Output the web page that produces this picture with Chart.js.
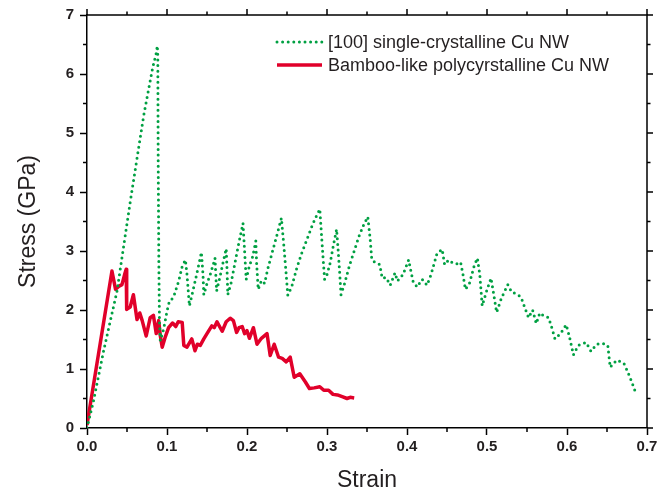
<!DOCTYPE html>
<html><head><meta charset="utf-8">
<script src="https://cdn.jsdelivr.net/npm/chart.js@4/dist/chart.umd.min.js"></script>
<style>html,body{margin:0;padding:0;background:#fff}canvas{display:block}</style>
</head><body>
<canvas id="c" width="672" height="497"></canvas>
<script>
// ---- data ----
const seriesLabels = ['[100] single-crystalline Cu NW', 'Bamboo-like polycyrstalline Cu NW'];
const xAxisTitle = 'Strain';
const yAxisTitle = 'Stress (GPa)';

const singleStrain = [0,0.0083,0.0208,0.0375,0.054,0.0708,0.082,0.0865,0.0879,
 0.0885,0.089,0.0898,0.0906,0.0916,
 0.0958,0.1,0.103,0.108,0.1146,0.119,0.123,
 0.125,0.128,0.132,0.137,0.141,0.143,
 0.145,0.146,0.150,0.154,0.158,0.160,
 0.161,0.162,0.166,0.170,0.174,
 0.175,0.176,0.180,0.185,0.190,0.195,
 0.197,0.199,0.203,0.207,0.211,
 0.212,0.214,0.218,0.222,0.226,0.232,0.238,0.243,
 0.246,0.249,0.251,0.256,0.262,0.268,0.275,0.282,0.287,0.291,
 0.293,0.295,0.297,0.300,0.304,0.308,0.312,
 0.314,0.316,0.3175,0.322,0.328,0.334,0.340,0.346,0.351,
 0.354,0.356,0.361,0.366,0.369,0.374,0.379,0.385,0.388,0.395,0.402,0.4075,0.4125,0.419,0.425,0.430,0.4375,0.444,0.447,0.452,0.457,0.462,0.467,0.470,0.473,0.478,0.484,0.488,0.491,0.494,0.499,0.505,0.508,0.512,0.518,0.526,0.531,0.536,0.5425,0.547,0.552,0.557,0.5616,0.566,0.571,0.577,0.581,0.585,0.592,0.599,0.603,0.608,0.614,0.624,0.630,0.637,0.645,0.651,0.654,0.662,0.671,0.676,0.681,0.685];
const singleStress = [0,0.47,1.31,2.32,3.83,5.29,6.1,6.35,6.48,
 6.3,4.5,2.8,1.8,1.48,
 1.68,1.98,2.15,2.21,2.49,2.74,2.85,
 2.6,2.07,2.3,2.6,2.85,2.98,
 2.6,2.26,2.45,2.6,2.78,2.88,
 2.6,2.32,2.55,2.8,3.04,
 2.7,2.26,2.45,2.8,3.15,3.47,
 3.0,2.52,2.75,2.9,3.17,
 2.8,2.35,2.5,2.45,2.7,3.0,3.3,3.56,
 3.1,2.6,2.25,2.4,2.7,2.95,3.2,3.45,3.6,3.71,
 3.3,2.9,2.52,2.6,2.8,3.1,3.37,
 3.0,2.6,2.26,2.45,2.75,3.0,3.25,3.45,3.58,
 3.2,2.85,2.8,2.77,2.54,2.55,2.42,2.63,2.49,2.6,2.85,2.49,2.39,2.52,2.42,2.6,2.96,3.03,2.77,2.85,2.8,2.78,2.81,2.6,2.35,2.45,2.75,2.88,2.6,2.07,2.3,2.54,2.3,1.96,2.2,2.43,2.3,2.28,2.22,2.05,1.87,2.0,1.77,1.95,1.9,1.87,1.7,1.51,1.6,1.75,1.55,1.24,1.4,1.45,1.3,1.42,1.43,1.40,1.03,1.15,1.10,0.95,0.78,0.63];

const bambooStrain = [0,0.0312,0.0357,0.0396,0.0437,0.047,0.049,0.0496,0.054,0.058,0.0625,0.066,0.069,0.074,0.079,0.083,0.0865,0.0896,0.0917,0.094,0.098,0.102,0.107,0.111,0.114,0.119,0.121,0.125,0.131,0.135,0.138,0.1416,0.146,0.150,0.156,0.159,0.1625,0.169,0.174,0.179,0.183,0.187,0.190,0.194,0.197,0.200,0.203,0.208,0.2125,0.218,0.225,0.229,0.234,0.2395,0.244,0.249,0.254,0.259,0.266,0.273,0.278,0.284,0.291,0.296,0.302,0.3075,0.313,0.319,0.325,0.329,0.334];
const bambooStress = [0.05,2.66,2.35,2.40,2.43,2.60,2.69,2.01,2.05,2.26,1.84,1.95,1.82,1.56,1.87,1.91,1.6,1.82,1.56,1.37,1.55,1.70,1.78,1.72,1.8,1.79,1.40,1.37,1.51,1.31,1.42,1.40,1.51,1.6,1.73,1.7,1.80,1.64,1.8,1.86,1.82,1.62,1.7,1.72,1.6,1.65,1.52,1.70,1.42,1.52,1.60,1.23,1.42,1.20,1.18,1.12,1.20,0.86,0.92,0.78,0.67,0.68,0.70,0.64,0.64,0.57,0.56,0.53,0.50,0.52,0.51];

const xRange = [0, 0.7];
const yRange = [0, 7];
const xMajorStep = 0.1, xMinorStep = 0.05;
const yMajorStep = 1, yMinorStep = 0.5;

// ---- styling ----
const GREEN = '#00a042';
const RED = '#e1002a';
const INK = '#231f20';

const toPoints = (xs, ys) => xs.map((x, i) => ({x, y: ys[i]}));

const frameTicks = {
  id: 'frameTicks',
  afterDraw(chart) {
    const {ctx, chartArea: a, scales: {x, y}} = chart;
    ctx.save();
    ctx.strokeStyle = '#000';
    ctx.lineWidth = 1.5;
    ctx.beginPath();
    ctx.moveTo(a.left, a.top); ctx.lineTo(a.right, a.top); ctx.lineTo(a.right, a.bottom);
    ctx.stroke();
    ctx.beginPath();
    const nx = Math.round((xRange[1] - xRange[0]) / xMinorStep);
    for (let i = 0; i <= nx; i++) {
      const px = x.getPixelForValue(xRange[0] + i * xMinorStep);
      const major = i % 2 === 0;
      if (!major) { ctx.moveTo(px, a.bottom); ctx.lineTo(px, a.bottom + 4); }
      const tl = major ? 6 : 3.5;
      ctx.moveTo(px, a.top); ctx.lineTo(px, a.top - tl);
    }
    const ny = Math.round((yRange[1] - yRange[0]) / yMinorStep);
    for (let i = 0; i <= ny; i++) {
      const py = y.getPixelForValue(yRange[0] + i * yMinorStep);
      const major = i % 2 === 0;
      if (!major) { ctx.moveTo(a.left, py); ctx.lineTo(a.left - 4, py); }
      const tl = major ? 6 : 3.5;
      ctx.moveTo(a.right, py); ctx.lineTo(a.right + tl, py);
    }
    ctx.stroke();

    // legend drawn from the datasets
    const lx = a.left + 190, ly0 = a.top + 27, dy = 23;
    chart.data.datasets.forEach((ds, i) => {
      const yy = ly0 + i * dy;
      ctx.beginPath();
      ctx.strokeStyle = ds.borderColor;
      ctx.lineWidth = ds.borderWidth;
      ctx.lineCap = ds.borderCapStyle || 'butt';
      ctx.setLineDash(ds.borderDash || []);
      ctx.moveTo(lx, yy); ctx.lineTo(lx + 45, yy);
      ctx.stroke();
      ctx.setLineDash([]);
      ctx.fillStyle = INK;
      ctx.font = '18px "Liberation Sans", Arial, sans-serif';
      ctx.textBaseline = 'middle';
      ctx.textAlign = 'left';
      ctx.fillText(ds.label, lx + 51, yy + 1);
    });
    ctx.restore();
  }
};

new Chart(document.getElementById('c'), {
  type: 'line',
  data: {
    datasets: [
      { label: seriesLabels[0], data: toPoints(singleStrain, singleStress),
        borderColor: GREEN, backgroundColor: GREEN, borderWidth: 3,
        borderDash: [0, 5.6], borderCapStyle: 'round', pointRadius: 0, tension: 0, fill: false },
      { label: seriesLabels[1], data: toPoints(bambooStrain, bambooStress),
        borderColor: RED, backgroundColor: RED, borderWidth: 3.5, borderJoinStyle: 'round',
        borderCapStyle: 'butt', pointRadius: 0, tension: 0, fill: false }
    ]
  },
  options: {
    responsive: false,
    animation: false,
    devicePixelRatio: 1,
    layout: { padding: { top: 12, right: 25, left: 0, bottom: 0 } },
    plugins: { legend: { display: false }, tooltip: { enabled: false } },
    scales: {
      x: {
        type: 'linear', min: xRange[0], max: xRange[1],
        afterFit: s => { s.height = 69; },
        border: { display: true, color: '#000', width: 1.5 },
        grid: { display: true, drawOnChartArea: false, drawTicks: true, tickLength: 7, tickWidth: 1.5, tickColor: '#000' },
        ticks: { stepSize: xMajorStep, padding: 3, color: INK, maxRotation: 0,
          font: { family: '"Liberation Sans", Arial, sans-serif', size: 15, weight: 'bold' },
          callback: v => Number(v).toFixed(1) },
        title: { display: true, text: xAxisTitle, color: INK, padding: { top: 0, bottom: 3 },
          font: { family: '"Liberation Sans", Arial, sans-serif', size: 23 } }
      },
      y: {
        type: 'linear', min: yRange[0], max: yRange[1],
        afterFit: s => { s.width = 87; },
        border: { display: true, color: '#000', width: 1.5 },
        grid: { display: true, drawOnChartArea: false, drawTicks: true, tickLength: 7, tickWidth: 1.5, tickColor: '#000' },
        ticks: { stepSize: yMajorStep, padding: 6, color: INK,
          font: { family: '"Liberation Sans", Arial, sans-serif', size: 15, weight: 'bold' },
          callback: v => String(v) },
        title: { display: true, text: yAxisTitle, color: INK, padding: { top: 15, bottom: 0 },
          font: { family: '"Liberation Sans", Arial, sans-serif', size: 23 } }
      }
    }
  },
  plugins: [frameTicks]
});
</script>
</body></html>
